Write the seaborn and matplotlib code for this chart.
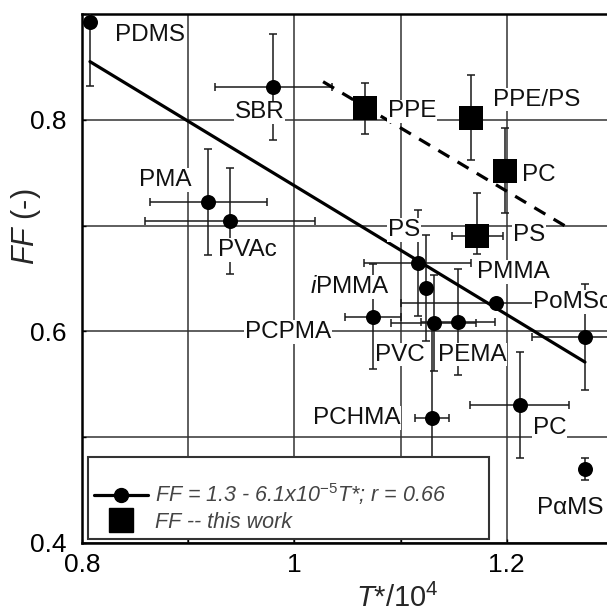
import matplotlib
matplotlib.use("Agg")
import matplotlib.pyplot as plt
import pandas as pd
import seaborn as sns
from matplotlib.lines import Line2D
from matplotlib.ticker import FixedLocator

sns.set_style("white")
plt.rcParams["font.family"] = ["Liberation Sans", "DejaVu Sans"]
plt.rcParams["mathtext.fontset"] = "custom"
plt.rcParams["mathtext.rm"] = "Liberation Sans"
plt.rcParams["mathtext.it"] = "Liberation Sans:italic"

# Literature polymers (filled circles): T*/10^4, FF and their uncertainties
lit_x = [0.8075, 0.980, 0.919, 0.939, 1.116, 1.124, 1.074, 1.131, 1.154,
         1.190, 1.274, 1.130, 1.212, 1.274]
lit_y = [0.892, 0.831, 0.7225, 0.7045, 0.665, 0.641, 0.614, 0.608, 0.609,
         0.627, 0.595, 0.518, 0.5305, 0.470]
lit_xerr = [0.0, 0.055, 0.055, 0.08, 0.05, 0.0, 0.026, 0.04, 0.035,
            0.09, 0.05, 0.016, 0.047, 0.0]
lit_yerr = [0.06, 0.05, 0.05, 0.05, 0.05, 0.05, 0.05, 0.045, 0.05,
            0.0, 0.05, 0.09, 0.05, 0.01]

# Polymers measured in this work (filled squares)
own_x = [1.0665, 1.166, 1.198, 1.172]
own_y = [0.811, 0.802, 0.752, 0.690]
own_xerr = [0.0, 0.0, 0.0, 0.024]
own_yerr_lo = [0.024, 0.04, 0.04, 0.017]
own_yerr_hi = [0.024, 0.04, 0.04, 0.041]

# Correlation line through the literature data and the line through this work
fit_x = [0.8075, 1.2736]
fit_y = [0.855, 0.571]
own_fit_x = [1.027, 1.261]
own_fit_y = [0.836, 0.696]

# Polymer names and where they are written
label_text = ["PDMS", "SBR", "PMA", "PVAc", "PPE", "PPE/PS", "PC", "PS", "PS",
              "PMMA", "$\\mathit{i}$PMMA", "PoMSc", "PCPMA", "PVC", "PEMA",
              "PCHMA", "PC", "P\u03b1MS"]
label_x = [0.831, 0.9675, 0.878, 0.956, 1.088, 1.187, 1.214, 1.088, 1.206,
           1.172, 1.0146, 1.2245, 0.9534, 1.0758, 1.135, 1.0174, 1.2245, 1.228]
label_y = [0.880, 0.807, 0.743, 0.677, 0.808, 0.819, 0.748, 0.696, 0.691,
           0.656, 0.642, 0.628, 0.5995, 0.578, 0.578, 0.518, 0.509, 0.433]
label_ha = ["left", "center", "center", "center", "left", "left", "left", "left",
            "left", "left", "left", "left", "left", "left", "left", "left",
            "left", "left"]

x_major = [0.8, 1.0, 1.2]
x_major_labels = ["0.8", "1", "1.2"]
x_minor = [0.9, 1.1, 1.3]
y_major = [0.4, 0.6, 0.8]
y_major_labels = ["0.4", "0.6", "0.8"]
y_minor = [0.5, 0.7, 0.9]

legend_labels = ["FF = 1.3 - 6.1x10$^{\\mathit{-5}}$T*; r = 0.66",
                 "FF -- this work"]

W, H = 607, 612
fig = plt.figure(figsize=(W / 100, H / 100), dpi=100)
ax = fig.add_axes([82 / W, 69 / H, 531 / W, 529 / H])
ax.set_xlim(0.8, 1.3)
ax.set_ylim(0.4, 0.9)

lit = pd.DataFrame({"x": lit_x, "y": lit_y})
own = pd.DataFrame({"x": own_x, "y": own_y})

ax.errorbar(lit_x, lit_y, xerr=lit_xerr, yerr=lit_yerr, fmt="none",
            ecolor="#1a1a1a", elinewidth=1.1, capsize=3, capthick=1.1, zorder=3)
ax.errorbar(own_x, own_y, xerr=own_xerr, yerr=[own_yerr_lo, own_yerr_hi],
            fmt="none", ecolor="#1a1a1a", elinewidth=1.1, capsize=3,
            capthick=1.1, zorder=3)

sns.lineplot(x=fit_x, y=fit_y, color="black", linewidth=2.3, ax=ax, zorder=4)
sns.lineplot(x=own_fit_x, y=own_fit_y, color="black", linewidth=2.3,
             linestyle=(0, (4, 3)), ax=ax, zorder=4)

sns.scatterplot(data=lit, x="x", y="y", marker="o", s=10.8 ** 2, color="black",
                edgecolor="black", linewidth=0, ax=ax, zorder=5, legend=False)
sns.scatterplot(data=own, x="x", y="y", marker="s", s=17.5 ** 2, color="black",
                edgecolor="black", linewidth=0, ax=ax, zorder=5, legend=False)

for txt, tx, ty, ha in zip(label_text, label_x, label_y, label_ha):
    ax.text(tx, ty, txt, fontsize=17.5, ha=ha, va="center", color="#111111",
            bbox=dict(facecolor="white", edgecolor="none", pad=0.6), zorder=7)

ax.xaxis.set_major_locator(FixedLocator(x_major))
ax.set_xticklabels(x_major_labels)
ax.xaxis.set_minor_locator(FixedLocator(x_minor))
ax.yaxis.set_major_locator(FixedLocator(y_major))
ax.set_yticklabels(y_major_labels)
ax.yaxis.set_minor_locator(FixedLocator(y_minor))
ax.grid(which="both", color="#333333", linewidth=1.1)
ax.set_axisbelow(True)
ax.tick_params(which="both", direction="in", length=3, width=1, bottom=True,
               left=True, colors="black")
ax.tick_params(axis="x", labelsize=19, pad=7)
ax.tick_params(axis="y", labelsize=19, pad=11)
ax.set_xlabel("")
ax.set_ylabel("")
for side in ["left", "bottom", "top"]:
    ax.spines[side].set_color("black")
    ax.spines[side].set_linewidth(1.8)
ax.spines["right"].set_visible(False)

fig.text(397 / W, 1 - 598 / H, "$\\mathit{T}$*/10$^{4}$", fontsize=21,
         ha="center", va="center")
fig.text(26 / W, 1 - 227 / H, "$\\mathit{FF}$ (-)", fontsize=22, rotation=90,
         ha="center", va="center")

handles = [Line2D([], [], color="black", linewidth=2.3, marker="o",
                  markersize=10, markerfacecolor="black", markeredgecolor="black"),
           Line2D([], [], linestyle="none", marker="s", markersize=17,
                  markerfacecolor="black", markeredgecolor="black")]
leg = ax.legend(handles, legend_labels, loc="lower left",
                bbox_to_anchor=(0.0113, 0.0076, 0.755, 0.163), mode="expand",
                frameon=True, fancybox=False, framealpha=1, edgecolor="#333333",
                prop={"style": "italic", "size": 15.5}, handlelength=2.5,
                borderpad=0.3, labelspacing=0.2, handletextpad=0.3,
                title=" ", title_fontsize=10, borderaxespad=0)
leg.get_frame().set_linewidth(1.5)
leg.set_zorder(8)
for t in leg.get_texts():
    t.set_color("#444444")

fig.savefig("out.png", dpi=100)
